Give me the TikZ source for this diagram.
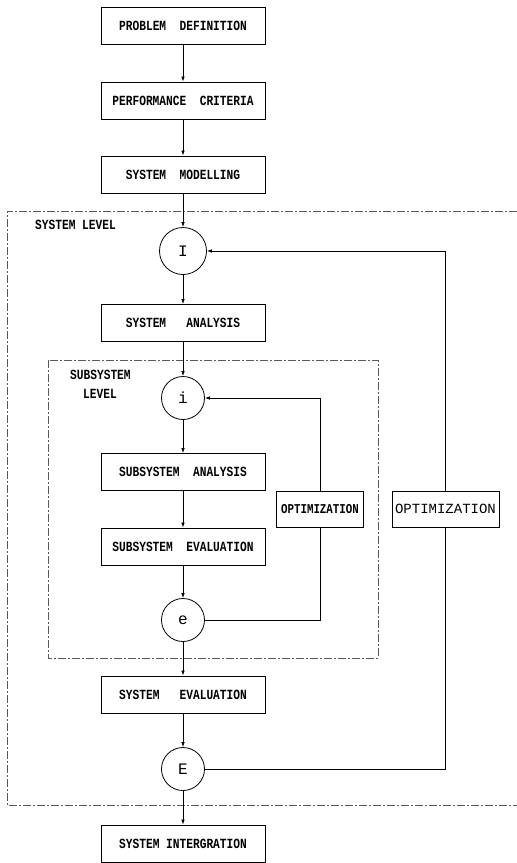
\documentclass[tikz,border=0pt]{standalone}
\usepackage{fontspec}
\newfontfamily\boxfont{Liberation Mono}
\newfontfamily\narrowfont{Liberation Mono}[FakeStretch=0.8]
\usetikzlibrary{arrows.meta}
\begin{document}
\begin{tikzpicture}[x=1pt,y=-1pt,
  stepbox/.style={draw,line width=0.9pt,minimum width=164pt,minimum height=37pt,inner sep=0pt,font=\narrowfont\bfseries\fontsize{14}{16}\selectfont},
  optbox/.style={draw,line width=0.9pt,minimum height=36pt,inner sep=0pt},
  junc/.style={draw,circle,line width=0.8pt,minimum size=43pt,inner sep=0pt,font=\boxfont\fontsize{16}{18}\selectfont},
  flow/.style={line width=0.7pt,-{Latex[length=5pt,width=3.5pt]}},
  plain/.style={line width=0.7pt},
  lvl/.style={font=\narrowfont\bfseries\fontsize{14}{16}\selectfont,anchor=west,inner sep=0pt},
  border/.style={line width=0.5pt,gray!70!black,dash pattern=on 8pt off 2pt on 2pt off 2pt}]
\useasboundingbox (0,0) rectangle (517,863);
% levels
\draw[border] (517,211) -- (7,211) -- (7,805) -- (517,805);
\draw[border] (48,360) rectangle (378,658);
\node[lvl] at (35,225) {SYSTEM LEVEL};
\node[lvl] at (70,375) {SUBSYSTEM};
\node[lvl] at (83,394) {LEVEL};
% main flow
\node[stepbox] (pd) at (183,26) {PROBLEM\ \ DEFINITION};
\node[stepbox] (pc) at (183,100.5) {PERFORMANCE\ \ CRITERIA};
\node[stepbox] (sm) at (183,174.5) {SYSTEM\ \ MODELLING};
\node[junc,minimum size=47pt] (I) at (183,251) {I};
\node[stepbox] (sa) at (183,323) {SYSTEM\ \ \ ANALYSIS};
\node[junc] (i) at (183,398) {i};
\node[stepbox] (ssa) at (183,472) {SUBSYSTEM\ \ ANALYSIS};
\node[stepbox] (sse) at (183,546.5) {SUBSYSTEM\ \ EVALUATION};
\node[junc] (e) at (183,620) {e};
\node[stepbox] (se) at (183,694.5) {SYSTEM\ \ \ EVALUATION};
\node[junc] (E) at (183,769) {E};
\node[stepbox] (si) at (183,843.5) {SYSTEM INTERGRATION};
% optimization boxes
\node[optbox,minimum width=87pt,font=\narrowfont\bfseries\fontsize{13.5}{15}\selectfont] (o1) at (320,509) {OPTIMIZATION};
\node[optbox,minimum width=107pt,font=\boxfont\fontsize{14}{16}\selectfont] (o2) at (445.5,509) {OPTIMIZATION};
% connectors
\draw[flow] (pd) -- (pc);
\draw[flow] (pc) -- (sm);
\draw[flow] (sm) -- (I);
\draw[flow] (I) -- (sa);
\draw[flow] (sa) -- (i);
\draw[flow] (i) -- (ssa);
\draw[flow] (ssa) -- (sse);
\draw[flow] (sse) -- (e);
\draw[flow] (e) -- (se);
\draw[flow] (se) -- (E);
\draw[flow] (E) -- (si);
% feedback loops
\draw[plain] (e) -- (o1 |- e) -- (o1);
\draw[flow] (o1) -- (o1 |- i) -- (i);
\draw[plain] (E) -- (o2 |- E) -- (o2);
\draw[flow] (o2) -- (o2 |- I) -- (I);
\end{tikzpicture}
\end{document}
